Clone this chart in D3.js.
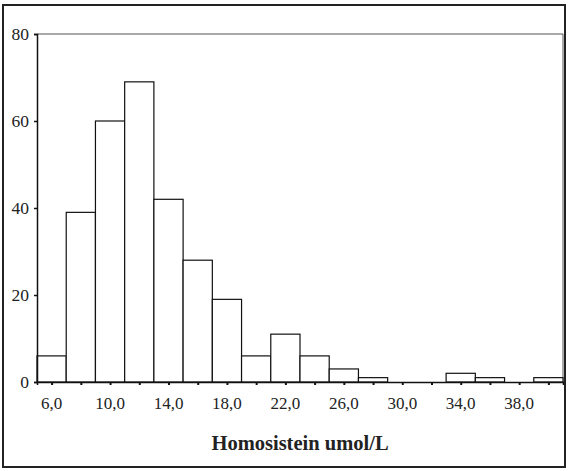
<!DOCTYPE html>
<html>
<head>
<meta charset="utf-8">
<script src="https://cdn.jsdelivr.net/npm/d3@7"></script>
<style>
  body { margin: 0; background: #fff; }
  text { font-family: 'Liberation Serif', 'DejaVu Serif', serif; fill: #222; }
</style>
</head>
<body>
<svg width="568" height="471"></svg>
<script>
// bin centres (umol/L) and counts
const binCenters = [6, 8, 10, 12, 14, 16, 18, 20, 22, 24, 26, 28, 30, 32, 34, 36, 38, 40];
const counts = [6, 39, 60, 69, 42, 28, 19, 6, 11, 6, 3, 1, 0, 0, 2, 1, 0, 1];
const xLabels = [6, 10, 14, 18, 22, 26, 30, 34, 38];
const yTicks = [0, 20, 40, 60, 80];
const binWidth = 2;

const svg = d3.select('svg');
const margin = { top: 34, right: 5, bottom: 89, left: 37 };
const width = 568;
const height = 471;

const x = d3.scaleLinear()
  .domain([binCenters[0] - binWidth / 2, binCenters[binCenters.length - 1] + binWidth / 2])
  .range([margin.left, width - margin.right]);

const y = d3.scaleLinear()
  .domain([0, 80])
  .range([height - margin.bottom, margin.top]);

// outer frame
svg.append('rect')
  .attr('x', 3).attr('y', 5)
  .attr('width', width - 6).attr('height', height - 9)
  .attr('fill', 'none')
  .attr('stroke', '#222')
  .attr('stroke-width', 2);

// plot frame (top + right)
svg.append('path')
  .attr('d', `M${x.range()[0]},${y(80)}H${x.range()[1]}V${y(0)}`)
  .attr('fill', 'none')
  .attr('stroke', '#555')
  .attr('stroke-width', 1);

// bars
svg.append('g')
  .attr('class', 'bars')
  .selectAll('rect')
  .data(binCenters.map((c, i) => ({ c, n: counts[i] })).filter(d => d.n > 0))
  .enter()
  .append('rect')
  .attr('x', d => x(d.c - binWidth / 2))
  .attr('y', d => y(d.n))
  .attr('width', d => x(d.c + binWidth / 2) - x(d.c - binWidth / 2))
  .attr('height', d => y(0) - y(d.n))
  .attr('fill', '#fff')
  .attr('stroke', '#111')
  .attr('stroke-width', 1.2);

// y axis
const yAxis = svg.append('g')
  .attr('transform', `translate(${margin.left},0)`)
  .call(d3.axisLeft(y).tickValues(yTicks).tickSize(3).tickPadding(5));
yAxis.select('.domain').attr('stroke', '#111').attr('stroke-width', 1.5);
yAxis.selectAll('line').attr('stroke', '#111').attr('stroke-width', 1.5);
yAxis.selectAll('text').style('font-size', '17.5px').attr('fill', '#222');

// x axis
const xAxis = svg.append('g')
  .attr('transform', `translate(0,${y(0)})`)
  .call(d3.axisBottom(x).tickValues(binCenters).tickSize(3).tickFormat(''));
xAxis.select('.domain').attr('stroke', '#111').attr('stroke-width', 1.5);
xAxis.selectAll('line').attr('stroke', '#111').attr('stroke-width', 2);

svg.append('g')
  .selectAll('text')
  .data(xLabels)
  .enter()
  .append('text')
  .attr('x', d => x(d))
  .attr('y', y(0) + 27)
  .attr('text-anchor', 'middle')
  .style('font-size', '17px')
  .text(d => d3.format('.1f')(d).replace('.', ','));

// axis title
svg.append('text')
  .attr('x', 300)
  .attr('y', 450)
  .attr('text-anchor', 'middle')
  .style('font-size', '20.5px')
  .style('font-weight', 'bold')
  .text('Homosistein umol/L');
</script>
</body>
</html>
